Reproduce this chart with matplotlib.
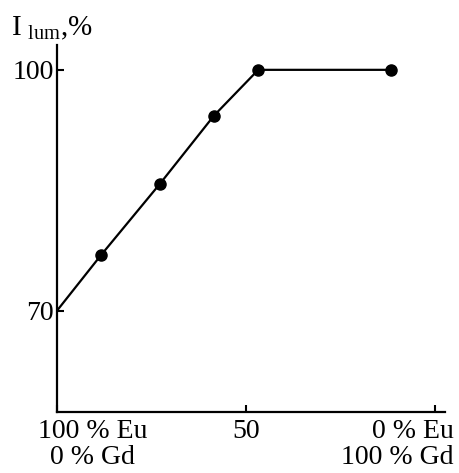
import matplotlib
matplotlib.use("Agg")
import matplotlib.pyplot as plt
from matplotlib.transforms import ScaledTranslation

plt.rcParams['font.family'] = ['Liberation Serif', 'DejaVu Serif']
plt.rcParams['mathtext.fontset'] = 'custom'
plt.rcParams['mathtext.rm'] = 'Liberation Serif'

# composition (% Gd), luminescence intensity (%)
x_line = [0, 11.6, 27.2, 41.5, 53.2, 88.4]
y_line = [70, 76.9, 85.8, 94.3, 100, 100]
x_pts = x_line[1:]
y_pts = y_line[1:]
xticks = [0, 50, 100]
xlabels = ['100 % Eu\n0 % Gd', '50', '0 % Eu\n100 % Gd']
yticks = [70, 100]

fig = plt.figure(figsize=(4.59, 4.73), dpi=100)
ax = fig.add_axes([0.124, 0.129, 0.846, 0.776])

ax.plot(x_line, y_line, color='black', lw=1.6)
ax.plot(x_pts, y_pts, 'o', color='black', ms=8)

ax.set_xlim(0, 102.6)
ax.set_ylim(57.4, 103.1)
ax.set_xticks(xticks)
ax.set_xticklabels(xlabels, fontsize=20, linespacing=1.05)
ax.set_yticks(yticks)
ax.set_yticklabels([str(v) for v in yticks], fontsize=20)
ax.tick_params(direction='in', length=5, width=1.5, pad=2)
ax.tick_params(axis='x', pad=5)

lbls = ax.get_xticklabels()
lbls[0].set_ha('left')
lbls[0].set_multialignment('center')
lbls[0].set_transform(lbls[0].get_transform() + ScaledTranslation(-0.19, 0, fig.dpi_scale_trans))
lbls[2].set_ha('right')
lbls[2].set_multialignment('right')
lbls[2].set_transform(lbls[2].get_transform() + ScaledTranslation(0.18, 0, fig.dpi_scale_trans))

for s in ['top', 'right']:
    ax.spines[s].set_visible(False)
for s in ['left', 'bottom']:
    ax.spines[s].set_linewidth(1.6)

fig.text(0.025, 0.94, r'$\mathrm{I}_{\mathrm{\ lum}}$,%', fontsize=21, ha='left', va='center')

fig.savefig('out.png', dpi=100)
